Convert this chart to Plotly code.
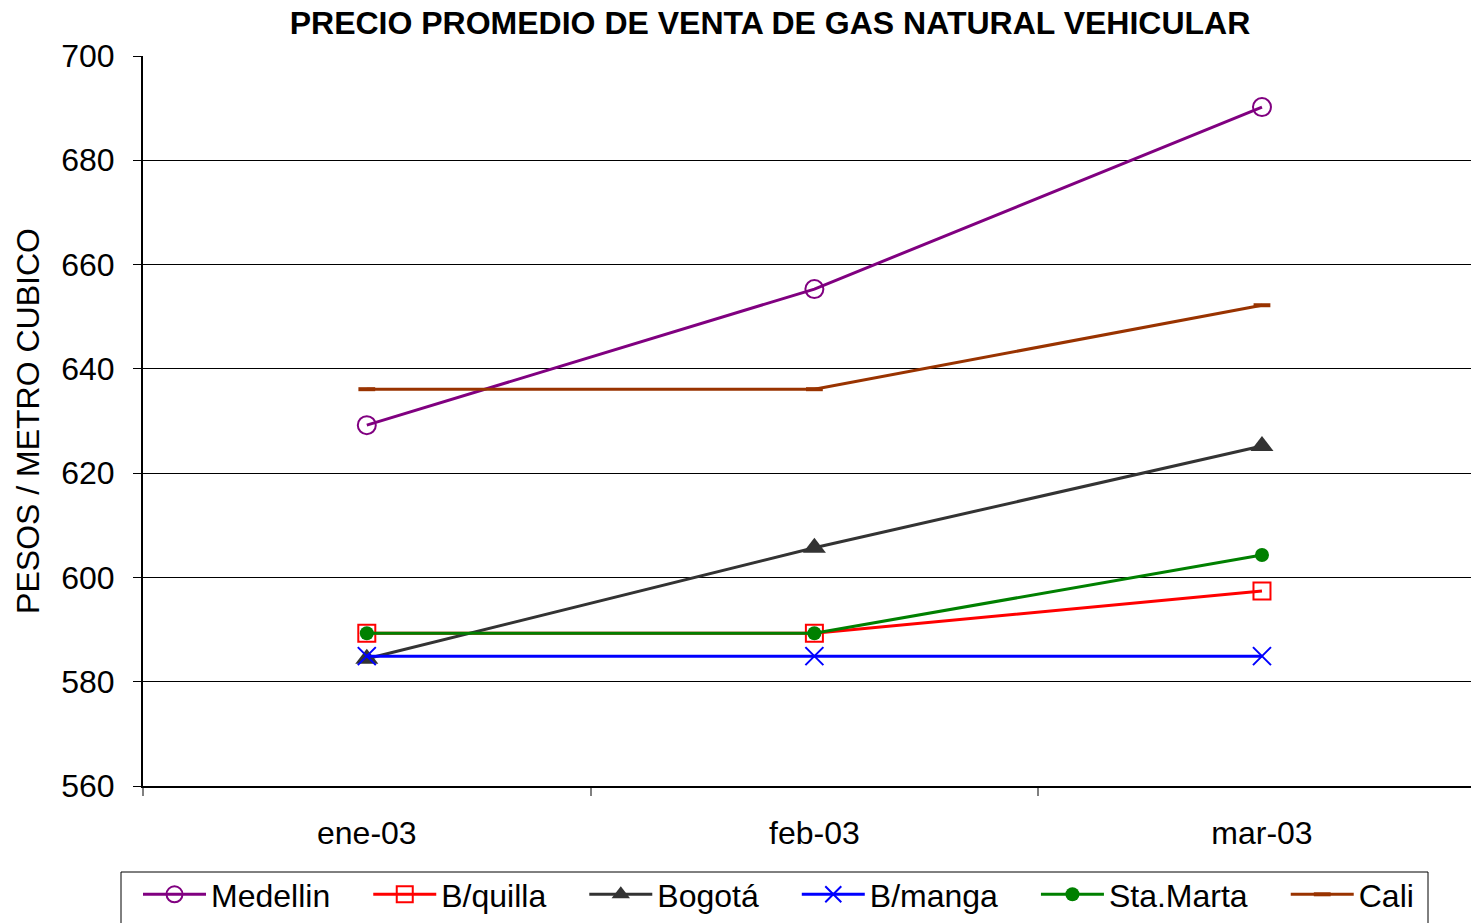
import plotly.graph_objects as go

months = ["ene-03", "feb-03", "mar-03"]
medellin = [629.2, 655.3, 690.2]
bquilla = [589.3, 589.3, 597.4]
bogota = [584.4, 605.7, 625.2]
bmanga = [584.9, 584.9, 584.9]
stamarta = [589.3, 589.3, 604.3]
cali = [636.1, 636.1, 652.2]

PAD = "\u00a0\u00a0\u00a0\u2009"
series = [
    ("Medellin", medellin, "#800080", dict(symbol="circle-open", size=18, line=dict(width=2, color="#800080"))),
    ("B/quilla", bquilla, "#FF0000", dict(symbol="square-open", size=17, line=dict(width=2, color="#FF0000"))),
    ("Bogotá", bogota, "#333333", dict(symbol="triangle-up", size=20, color="#333333")),
    ("B/manga", bmanga, "#0000FF", dict(symbol="x-thin-open", size=18, line=dict(width=2, color="#0000FF"))),
    ("Sta.Marta", stamarta, "#008000", dict(symbol="circle", size=14, color="#008000")),
    ("Cali", cali, "#993300", dict(symbol="line-ew-open", size=12, line=dict(width=4, color="#993300"))),
]

fig = go.Figure()
for i, (name, vals, color, mk) in enumerate(series):
    label = name + (PAD if i < len(series) - 1 else "")
    fig.add_trace(go.Scatter(
        x=months, y=vals, name=label, mode="lines+markers",
        line=dict(color=color, width=3), marker=mk,
    ))

FONT = "Liberation Sans, Arial, sans-serif"
W, H = 1471, 923
L, T, B = 143, 56, 137
PW, PH = W - L, H - T - B

def px(xp):
    return (xp - L) / PW

def py(yp):
    return (H - B - yp) / PH

fig.update_layout(
    width=W, height=H,
    margin=dict(l=L, r=0, t=T, b=B, autoexpand=False),
    paper_bgcolor="white", plot_bgcolor="white",
    font=dict(family=FONT, size=32, color="black"),
    title=dict(text="<b>PRECIO PROMEDIO DE VENTA DE GAS NATURAL VEHICULAR</b>",
               x=px(770), xref="paper", xanchor="center",
               y=1 - 23 / H, yanchor="middle", font=dict(size=32)),
    showlegend=True,
    legend=dict(orientation="h", x=px(138), xanchor="left",
                y=py(867), yanchor="top",
                borderwidth=0, bgcolor="rgba(0,0,0,0)",
                font=dict(size=32), entrywidth=0, itemwidth=63),
    shapes=[dict(type="rect", xref="paper", yref="paper",
                 x0=px(121), x1=px(1428), y0=py(872), y1=py(935),
                 line=dict(color="black", width=1), fillcolor="rgba(0,0,0,0)")],
)
fig.update_xaxes(
    type="category", range=[-0.5, 2.467],
    showline=True, linecolor="black", linewidth=2,
    ticks="outside", tickson="boundaries", ticklen=8, tickcolor="#808080", tickwidth=2,
    showgrid=False, tickfont=dict(size=32), ticklabelstandoff=18,
)
fig.update_yaxes(
    range=[560, 700], dtick=20,
    showline=True, linecolor="black", linewidth=2,
    ticks="outside", ticklen=8, tickcolor="black", tickwidth=1,
    showgrid=True, gridcolor="black", gridwidth=1,
    tickfont=dict(size=32), ticklabelstandoff=12,
    title=dict(text="PESOS / METRO CUBICO", font=dict(size=32), standoff=12),
    zeroline=False,
)
fig.write_html("out.html",
               config={"displayModeBar": False},
               post_script="document.body.style.margin='0';document.body.style.overflow='hidden';")
